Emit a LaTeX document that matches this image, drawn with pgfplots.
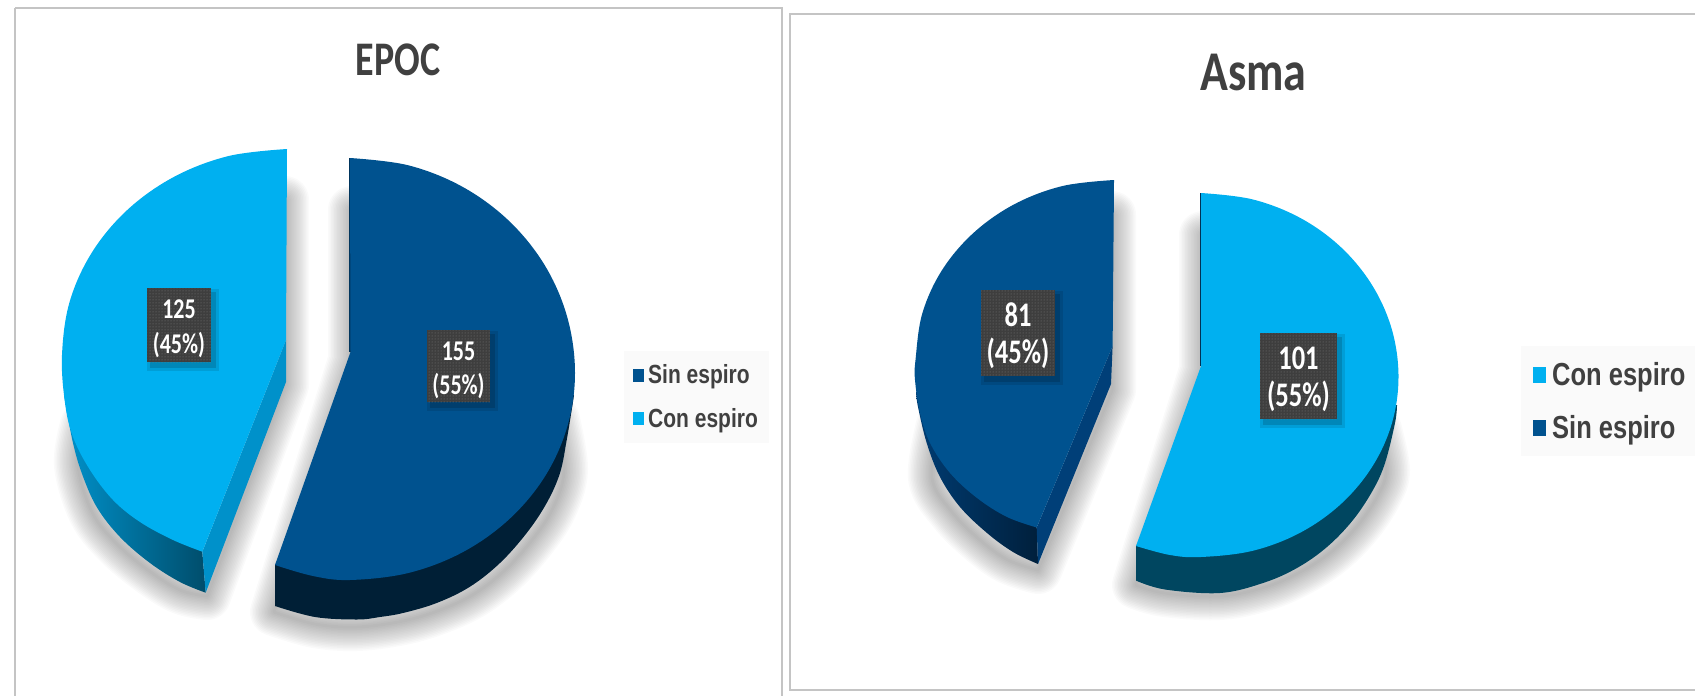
\documentclass[border=0pt]{standalone}
\usepackage{graphicx}
\usepackage{fontspec}
\setmainfont{Carlito}
\newfontfamily\legendfont{Liberation Sans}
\usepackage{pgfplots}
\usepackage{pgfplotstable}
\pgfplotsset{compat=1.18}
\usetikzlibrary{patterns}

\definecolor{navy}{HTML}{00528F}
\definecolor{navycut}{HTML}{003F78}
\definecolor{sky}{HTML}{00B0F0}
\definecolor{skycut}{HTML}{0091CA}
\definecolor{boxgray}{HTML}{3E3E3E}
\definecolor{inkgray}{HTML}{404040}
\definecolor{framegray}{HTML}{C4C4C4}
\definecolor{legbg}{HTML}{FAFAFA}

% Outer arcs of the wedge tops: 55% spans 198 degrees, 45% spans 162 degrees.
\pgfplotstableread{
x y
350 158
408.3 165.3
462.5 186.8
509.1 221
544.9 265.5
567.3 317.3
575 373
567.3 426.6
544.9 476.5
509.1 519.3
462.5 552.3
408.3 573
350 580
313 576
275 565
}\epocDarkTop
\pgfplotstableread{
x y
574 395
571.7 410
566.7 440
560 473
546.7 503
526.7 533
500 563
470 586.7
436.7 603
403 613
380 617
357 619.5
315 617
275 606
}\epocDarkSide
\pgfplotstableread{
x y
556 420
564 470
553 508
532 540
505 570
474 594
440 610
403 621
357 627
315 624
274 612
}\epocDarkShadow
\pgfplotstableread{
x y
287 149
228.7 156
174.5 176.6
127.9 209.4
92.2 252
69.7 301.6
62 355
65 403
73 437
90 470
113 500
140 522
173 540
202.3 551.7
}\epocLightTop
\pgfplotstableread{
x y
64 395
66.7 410
73 443
81.7 473
96.7 507
120 537
150 563
180 582
205.7 592.7
}\epocLightSide
\pgfplotstableread{
x y
84 425
78 465
92 512
116 543
148 570
180 590
207 596
}\epocLightShadow
\pgfplotstableread{
x y
1201 193
1252.2 199.3
1299.8 217.7
1340.6 246.9
1372 285
1391.8 329.3
1398.5 377
1391.8 423.6
1372 467
1340.6 504.3
1299.8 532.9
1252.2 550.9
1201 557
1170 555
1136 546
}\asmaCyanTop
\pgfplotstableread{
x y
1397 405
1395 423
1385 463
1373 490
1353 520
1327 547
1297 568
1263 583
1220 593
1165 589.5
1136 580.6
}\asmaCyanSide
\pgfplotstableread{
x y
1378 430
1386 470
1378 495
1358 525
1331 552
1300 572
1265 587
1220 596
1165 593
1136 585
}\asmaCyanShadow
\pgfplotstableread{
x y
1114 180
1062.6 186
1014.8 204
973.7 232.7
942.1 270
922.3 313.4
915.5 360
915 380
920 413
930 443
950 473
977 498
1007 517
1036.7 527.5
}\asmaDarkTop
\pgfplotstableread{
x y
916 392
918 407
926.7 443
940 477
960 507
987 533
1013 552
1038 564
}\asmaDarkSide
\pgfplotstableread{
x y
940 425
932 478
952 512
980 540
1008 560
1038 570
}\asmaDarkShadow

% One sheet in pixel units, y running downwards.
\pgfplotsset{
  sheet/.style={
    at={(0,0)}, anchor=south west, scale only axis,
    width=1695pt, height=696pt,
    xmin=0, xmax=1695, ymin=0, ymax=696, y dir=reverse,
    hide axis, no markers,
    legend cell align=left,
  },
  arc/.style={smooth, tension=0.6},
  soft/.style={draw=black, fill=none, line join=round, line cap=round,
    opacity=0.02, arc},
}

% Soft shadow: the same closed outline stroked at shrinking widths.
\newcommand{\softshadow}[3]{%
  \pgfplotsinvokeforeach{48,45,42,39,36,33,30,27,24,21,18,15,12,9,6,3}{%
    \addplot[soft, line width=##1pt, forget plot] table[x=x,y=y]{#1} -- (axis cs:#2) -- (axis cs:#3) -- cycle;
  }%
}

% Data label: box centre, size, two text centres, the two lines, font size.
\newcommand{\valuebox}[9]{%
  \node[fill=black,opacity=0.10,minimum width=#3pt+8pt,minimum height=#4pt+8pt,inner sep=0pt] at (axis cs:#1+4,#2+5) {};
  \node[fill=black,opacity=0.14,minimum width=#3pt+2pt,minimum height=#4pt+2pt,inner sep=0pt] at (axis cs:#1+4,#2+5) {};
  \node[fill=boxgray,minimum width=#3pt,minimum height=#4pt,inner sep=0pt,
        postaction={pattern=dots,pattern color=white!32!boxgray}] at (axis cs:#1,#2) {};
  \node[text=white,inner sep=0pt,font=\bfseries\fontsize{#9}{#9}\selectfont] at (axis cs:#1,#5) {\scalebox{1}[1.3]{#7}};
  \node[text=white,inner sep=0pt,font=\bfseries\fontsize{#9}{#9}\selectfont] at (axis cs:#1,#6) {\scalebox{1}[1.3]{#8}};
}

\begin{document}
\begin{tikzpicture}
\useasboundingbox (0,0) rectangle (1695pt,696pt);

% EPOC: 155 without, 125 with spirometry
\begin{axis}[sheet,
  legend image code/.code={\fill[#1] (0pt,-6.5pt) rectangle (11pt,6.5pt);},
  legend style={at={(axis cs:623.5,350.6)},anchor=north west,draw=none,fill=legbg,
    inner xsep=9pt,inner ysep=12pt,row sep=19pt,text=inkgray,
    /tikz/every odd column/.append style={column sep=2.5pt},
    font=\legendfont\bfseries\fontsize{21}{21}\selectfont}]
\addlegendimage{fill=navy,draw=none}
\addlegendentry{\scalebox{1}[1.25]{Sin espiro}}
\addlegendimage{fill=sky,draw=none}
\addlegendentry{\scalebox{1}[1.25]{Con espiro}}

\addplot[framegray,line width=2.5pt,forget plot] coordinates {(15,8) (782,8) (782,720) (15,720) (15,8)};
\softshadow{\epocLightShadow}{285,385}{285,200}
\softshadow{\epocDarkShadow}{352,360}{352,210}

% light wedge, 125
\addplot[draw=none,arc,left color=skycut,middle color=black!22!skycut,right color=black!47!skycut,forget plot]
  table[x=x,y=y]{\epocLightSide} -- (axis cs:202.3,551.7) -- (axis cs:200,400) -- cycle;
\addplot[draw=none,fill=skycut,forget plot] coordinates {(286,340) (286,382) (205.7,592.7) (202.3,551.7)} -- cycle;
\addplot[draw=none,arc,fill=sky,forget plot]
  table[x=x,y=y]{\epocLightTop} -- (axis cs:286,340) -- cycle;

% dark wedge, 155
\addplot[draw=none,arc,fill=black!62!navy,forget plot]
  table[x=x,y=y]{\epocDarkSide} -- (axis cs:275,565) -- (axis cs:350,450) -- cycle;
\addplot[draw=none,fill=black!35!navy,forget plot] coordinates {(349,158) (351,158) (351,352) (349,352)} -- cycle;
\addplot[draw=none,arc,fill=navy,forget plot]
  table[x=x,y=y]{\epocDarkTop} -- (axis cs:350.5,352) -- cycle;

\valuebox{179}{325}{63.4}{74}{309}{345}{125}{(45\%)}{22}
\valuebox{458.5}{366}{63}{72}{351}{386}{155}{(55\%)}{22}
\node[text=inkgray,font=\bfseries\fontsize{38}{38}\selectfont] at (axis cs:398,60) {\scalebox{1}[1.27]{EPOC}};
\end{axis}

% Asma: 101 with, 81 without spirometry
\begin{axis}[sheet,
  legend image code/.code={\fill[#1] (0pt,-8pt) rectangle (13pt,8pt);},
  legend style={at={(axis cs:1521,346)},anchor=north west,draw=none,fill=legbg,
    inner xsep=12pt,inner ysep=14pt,row sep=25pt,text=inkgray,
    /tikz/every odd column/.append style={column sep=4pt},
    font=\legendfont\bfseries\fontsize{25.5}{25.5}\selectfont}]
\addlegendimage{fill=sky,draw=none}
\addlegendentry{\scalebox{1}[1.25]{Con espiro}}
\addlegendimage{fill=navy,draw=none}
\addlegendentry{\scalebox{1}[1.25]{Sin espiro}}

\addplot[framegray,line width=2.5pt,forget plot] coordinates {(1720,14) (790,14) (790,690) (1720,690)};
\softshadow{\asmaDarkShadow}{1112,390}{1112,215}
\softshadow{\asmaCyanShadow}{1203,370}{1203,235}

% dark wedge, 81
\addplot[draw=none,arc,left color=black!5!navycut,right color=black!50!navycut,forget plot]
  table[x=x,y=y]{\asmaDarkSide} -- (axis cs:1036.7,527.5) -- (axis cs:1030,400) -- cycle;
\addplot[draw=none,fill=navycut,forget plot] coordinates {(1112.6,346) (1111,384) (1038,564) (1036.7,527.5)} -- cycle;
\addplot[draw=none,arc,fill=navy,forget plot]
  table[x=x,y=y]{\asmaDarkTop} -- (axis cs:1112.6,346) -- cycle;

% cyan wedge, 101
\addplot[draw=none,arc,fill=black!60!sky,forget plot]
  table[x=x,y=y]{\asmaCyanSide} -- (axis cs:1136,546) -- (axis cs:1200,450) -- cycle;
\addplot[draw=none,fill=black!40!navy,forget plot] coordinates {(1200,193) (1202,193) (1202,366) (1200,366)} -- cycle;
\addplot[draw=none,arc,fill=sky,forget plot]
  table[x=x,y=y]{\asmaCyanTop} -- (axis cs:1201,366) -- cycle;

\valuebox{1018}{333}{74}{86}{315}{353}{81}{(45\%)}{26.5}
\valuebox{1298.5}{376}{77}{86}{358.6}{396}{101}{(55\%)}{26.5}
\node[text=inkgray,font=\bfseries\fontsize{46}{46}\selectfont] at (axis cs:1253.5,73) {\scalebox{1}[1.22]{Asma}};
\end{axis}

\end{tikzpicture}
\end{document}
